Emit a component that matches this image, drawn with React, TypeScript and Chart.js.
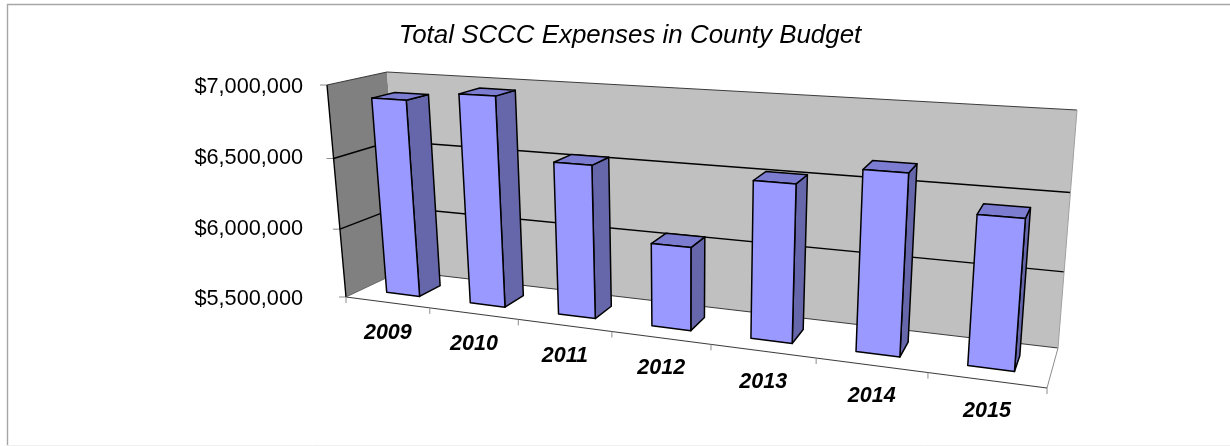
import React, { useEffect, useRef } from "react";
import { Chart, registerables } from "chart.js";

Chart.register(...registerables);

const categories = ["2009", "2010", "2011", "2012", "2013", "2014", "2015"];
const expenses = [6895000, 6960000, 6550000, 6065000, 6535000, 6655000, 6440000];
const axisMin = 5500000;
const axisMax = 7000000;
const axisStep = 500000;
const chartTitle = "Total SCCC Expenses in County Budget";

type Pt = [number, number];
const FONT = '"Liberation Sans", Arial, sans-serif';

// Corners of the 3D box (layout of the perspective frame)
const A: Pt = [346, 297]; // front bottom left
const B: Pt = [1047, 388]; // front bottom right
const C: Pt = [401, 271]; // back bottom left
const D: Pt = [1058, 348]; // back bottom right
const E: Pt = [387, 72]; // back top left
const F: Pt = [1077, 110]; // back top right
const G: Pt = [327, 85]; // front top left
const H: Pt = [1067, 130]; // front top right
const BAR_DEPTH_FRONT = 0.3;
const BAR_DEPTH_BACK = 0.7;

const lerp = (p: Pt, q: Pt, t: number): Pt => [p[0] + (q[0] - p[0]) * t, p[1] + (q[1] - p[1]) * t];
const warpU = (u: number) => ((346 + 506.9 * u) / (1 - 0.1854 * u) - 346) / 701;
const warpW = (w: number) => w - 0.06 * w * (1 - w);

function project(u: number, v: number, w: number): Pt {
  const uu = warpU(u);
  const bottom = lerp(lerp(A, B, uu), lerp(C, D, uu), v);
  const top = lerp(lerp(G, H, uu), lerp(E, F, uu), v);
  return lerp(bottom, top, warpW(w));
}

function poly(ctx: CanvasRenderingContext2D, pts: Pt[], fill?: string, stroke?: string, lw = 1) {
  ctx.beginPath();
  pts.forEach((p, i) => (i ? ctx.lineTo(p[0], p[1]) : ctx.moveTo(p[0], p[1])));
  ctx.closePath();
  if (fill) {
    ctx.fillStyle = fill;
    ctx.fill();
  }
  if (stroke) {
    ctx.strokeStyle = stroke;
    ctx.lineWidth = lw;
    ctx.lineJoin = "round";
    ctx.stroke();
  }
}

function line(ctx: CanvasRenderingContext2D, p: Pt, q: Pt, color: string, lw = 1) {
  ctx.beginPath();
  ctx.moveTo(p[0], p[1]);
  ctx.lineTo(q[0], q[1]);
  ctx.strokeStyle = color;
  ctx.lineWidth = lw;
  ctx.stroke();
}

const box3d = {
  id: "box3d",
  beforeDatasetsDraw(chart: any) {
    const { ctx, chartArea, scales } = chart;
    const toW = (py: number) => (chartArea.bottom - py) / (chartArea.bottom - chartArea.top);
    ctx.save();
    // frame of the picture
    line(ctx, [7.5, 4], [7.5, 446], "#a6a6a6", 1.4);
    line(ctx, [7, 4.5], [1230, 4.5], "#a6a6a6", 1.4);
    line(ctx, [7, 445.5], [1230, 445.5], "#efefef", 1);
    // walls
    poly(ctx, [A, G, E, C], "#808080");
    poly(ctx, [C, E, F, D], "#c0c0c0");
    // gridlines from the y scale
    scales.y.ticks.forEach((t: any) => {
      const w = toW(scales.y.getPixelForValue(t.value));
      const front = project(0, 0, w);
      const back = project(0, 1, w);
      const right = project(1, 1, w);
      line(ctx, [front[0] - 7, front[1]], front, "#8c8c8c", 1);
      if (t.value !== axisMin && t.value !== axisMax) {
        line(ctx, front, back, "#000000", 1.4);
        line(ctx, back, right, "#000000", 1.4);
      }
    });
    // wall and floor edges
    line(ctx, A, G, "#000000", 1.4);
    line(ctx, G, E, "#3c3c3c", 1.1);
    line(ctx, E, F, "#3c3c3c", 1.1);
    line(ctx, C, D, "#3c3c3c", 1.1);
    line(ctx, A, C, "#555555", 0.8);
    line(ctx, D, F, "#a0a0a0", 1);
    line(ctx, B, D, "#8c8c8c", 1);
    line(ctx, A, B, "#3c3c3c", 1.2);
    // ticks below the floor edge
    for (let i = 0; i <= categories.length; i++) {
      const p = project(i / categories.length, 0, 0);
      line(ctx, p, [p[0], p[1] + 6], "#8c8c8c", 1);
    }
    // category labels
    ctx.fillStyle = "#000000";
    ctx.font = `italic bold 21.5px ${FONT}`;
    ctx.textAlign = "center";
    ctx.textBaseline = "middle";
    categories.forEach((c, i) => {
      const px = scales.x.getPixelForValue(i);
      const p = project((px - chartArea.left) / (chartArea.right - chartArea.left), 0, 0);
      ctx.fillText(scales.x.getLabelForValue(i) ?? c, p[0] + 0.5, p[1] + 30.5);
    });
    ctx.restore();
  },
  beforeDatasetDraw(chart: any, args: any) {
    const { ctx, chartArea } = chart;
    const spanX = chartArea.right - chartArea.left;
    const spanY = chartArea.bottom - chartArea.top;
    ctx.save();
    args.meta.data.forEach((el: any) => {
      const u0 = (el.x - el.width / 2 - chartArea.left) / spanX;
      const u1 = (el.x + el.width / 2 - chartArea.left) / spanX;
      const w = (chartArea.bottom - el.y) / spanY;
      const v0 = BAR_DEPTH_FRONT;
      const v1 = BAR_DEPTH_BACK;
      const fb0 = project(u0, v0, 0);
      const fb1 = project(u1, v0, 0);
      const ft0 = project(u0, v0, w);
      const ft1 = project(u1, v0, w);
      const bb1 = project(u1, v1, 0);
      const bt0 = project(u0, v1, w);
      const bt1 = project(u1, v1, w);
      poly(ctx, [fb1, bb1, bt1, ft1], "#6666aa", "#000000", 1.5);
      poly(ctx, [ft0, ft1, bt1, bt0], "#7c7cd0", "#000000", 1.5);
      poly(ctx, [fb0, fb1, ft1, ft0], el.options.backgroundColor, "#000000", 1.5);
    });
    ctx.restore();
    return false;
  },
};

export default function App() {
  const ref = useRef<HTMLCanvasElement | null>(null);
  useEffect(() => {
    document.body.style.margin = "0";
    document.body.style.background = "#ffffff";
    const chart = new Chart(ref.current!, {
      type: "bar",
      data: {
        labels: categories,
        datasets: [
          {
            label: "Total SCCC Expenses",
            data: expenses,
            backgroundColor: "#9999ff",
            barPercentage: 0.4,
            categoryPercentage: 1,
          },
        ],
      },
      options: {
        animation: false,
        responsive: false,
        devicePixelRatio: 1,
        layout: { padding: { left: 40, right: 10, top: 0, bottom: 146.5 } },
        plugins: {
          legend: { display: false },
          tooltip: { enabled: false },
          title: {
            display: true,
            text: chartTitle,
            color: "#000000",
            font: { family: FONT, size: 25.9, style: "italic", weight: "normal" },
            padding: { top: 20, bottom: 36 },
          },
        },
        scales: {
          x: { display: false },
          y: {
            min: axisMin,
            max: axisMax,
            afterFit(scale: any) {
              scale.width = 280;
            },
            grid: { display: false, drawTicks: false },
            border: { display: false },
            ticks: {
              stepSize: axisStep,
              padding: 17,
              color: "#000000",
              font: { family: FONT, size: 21.7 },
              callback: (v: any) => "$" + Number(v).toLocaleString("en-US"),
            },
          },
        },
      },
      plugins: [box3d],
    } as any);
    return () => chart.destroy();
  }, []);
  return <canvas ref={ref} width={1230} height={446} style={{ display: "block", filter: "blur(0.4px)" }} />;
}
